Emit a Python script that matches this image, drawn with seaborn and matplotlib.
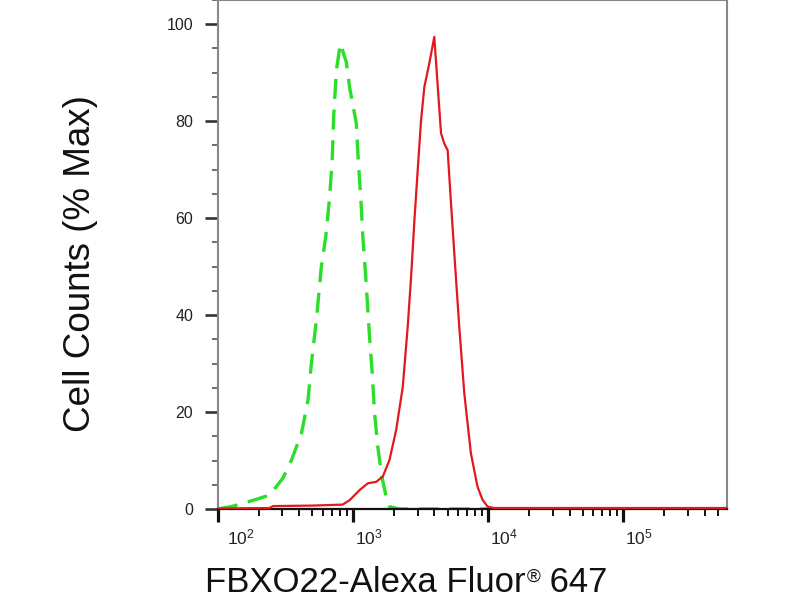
import numpy as np
import pandas as pd
import seaborn as sns
import matplotlib.pyplot as plt
from matplotlib.ticker import LogLocator, NullFormatter, MultipleLocator
from matplotlib.transforms import ScaledTranslation

# isotype control (green dashed)
ctrl_x = [100, 109, 130, 188, 242, 303, 350, 415, 464, 491, 535, 582, 627, 671,
          702, 718, 752, 805, 891, 942, 1056, 1085, 1117, 1150, 1181, 1240, 1324,
          1386, 1442, 1524, 1632, 1758, 1859, 2200, 10000, 100000, 586000]
ctrl_y = [0, 0.2, 0.6, 1.9, 2.9, 6.4, 10.1, 15.6, 22.5, 30, 39, 50, 56.1, 64.4,
          72.6, 80.9, 90.5, 96, 92.2, 87, 79.6, 73.4, 67.8, 62.3, 56.1, 48, 35.5,
          28, 19.8, 12.8, 6.7, 2.5, 0.5, 0, 0, 0, 0]

# FBXO22 stained sample (red solid)
fbxo_x = [100, 240, 256, 500, 836, 942, 1117, 1286, 1483, 1660, 1859, 2084, 2333,
          2537, 2690, 2845, 3008, 3186, 3371, 3670, 3991, 4477, 4733, 5012, 5309,
          5612, 6109, 6653, 7447, 8337, 9082, 9886, 11000, 100000, 586000]
fbxo_y = [0.1, 0.2, 0.6, 0.7, 0.9, 1.8, 3.9, 5.3, 5.6, 6.7, 10.1, 16.3, 25.2,
          37.6, 48, 59.6, 69.9, 80.2, 87.1, 92, 97.4, 77.5, 75.4, 74, 63,
          52.8, 37.6, 23.9, 11.5, 4.6, 1.9, 0.5, 0.2, 0.2, 0.2]

x_ticks = [1e2, 1e3, 1e4, 1e5]
x_ticklabels = [r'$10^{2}$', r'$10^{3}$', r'$10^{4}$', r'$10^{5}$']
y_ticks = [0, 20, 40, 60, 80, 100]

ctrl = pd.DataFrame({'Intensity': ctrl_x, 'Percent': ctrl_y})
fbxo = pd.DataFrame({'Intensity': fbxo_x, 'Percent': fbxo_y})

sns.set_style("white")
plt.rcParams['font.family'] = ['Liberation Sans', 'DejaVu Sans']
plt.rcParams['mathtext.default'] = 'regular'

fig = plt.figure(figsize=(8, 6), dpi=100)
ax = fig.add_axes([0.2725, 0.1517, 0.63625, 0.8483])

sns.lineplot(data=ctrl, x='Intensity', y='Percent', ax=ax, color='#2ade2a',
             linewidth=2.4, linestyle=(0, (6, 3.2)), zorder=2)
sns.lineplot(data=fbxo, x='Intensity', y='Percent', ax=ax, color='#e2191c',
             linewidth=1.6, zorder=3)

ax.set_xscale('log')
ax.set_xlim(100, 586000)
ax.set_ylim(0, 105)

ax.set_xticks(x_ticks, labels=x_ticklabels)
ax.xaxis.set_minor_locator(LogLocator(base=10, subs=np.arange(2, 10)))
ax.xaxis.set_minor_formatter(NullFormatter())
ax.set_yticks(y_ticks)
ax.yaxis.set_minor_locator(MultipleLocator(5))

ax.tick_params(axis='x', which='both', bottom=True)
ax.tick_params(axis='y', which='both', left=True)
ax.tick_params(axis='x', which='major', direction='out', length=9.5, width=2.3,
               color='#111111', labelsize=12.5, pad=4, labelcolor='#222222')
ax.tick_params(axis='x', which='minor', direction='out', length=5, width=1.4,
               color='#111111')
ax.tick_params(axis='y', which='major', direction='out', length=9.5, width=1.9,
               color='#333333', labelsize=11.5, pad=8.5, labelcolor='#222222')
ax.tick_params(axis='y', which='minor', direction='out', length=4.5, width=1.2,
               color='#555555')

# labels sit just right of their tick
for i, lab in enumerate(ax.get_xticklabels()):
    dx = 6.5 if i == 0 else 1.5
    lab.set_horizontalalignment('left')
    lab.set_transform(lab.get_transform() + ScaledTranslation(dx / 72, 0, fig.dpi_scale_trans))

for side in ['top', 'right', 'left']:
    ax.spines[side].set_color('#888888')
    ax.spines[side].set_linewidth(1.5)
ax.spines['bottom'].set_color('#111111')
ax.spines['bottom'].set_linewidth(1.6)

# x label in three pieces so the registered mark sits small at cap height
ax.set_xlabel('')
t1 = fig.text(205 / 800, 7.5 / 600, 'FBXO22-Alexa Fluor', fontsize=25,
              ha='left', va='baseline', color='#111111')
t2 = ax.annotate('®', xy=(1, 1), xycoords=t1, xytext=(0.5, -1.5),
                 textcoords='offset points', fontsize=13.5, ha='left', va='top',
                 color='#111111', annotation_clip=False)
t3 = ax.annotate(' 647', xy=(1, 0), xycoords=(t2, t1), fontsize=25,
                 ha='left', va='bottom', color='#111111', annotation_clip=False)

ax.set_ylabel('Cell Counts (% Max)', fontsize=26.5, color='#111111')
ax.yaxis.set_label_coords(-0.236, 0.483)

plt.savefig('out.png', dpi=100)
plt.close()
